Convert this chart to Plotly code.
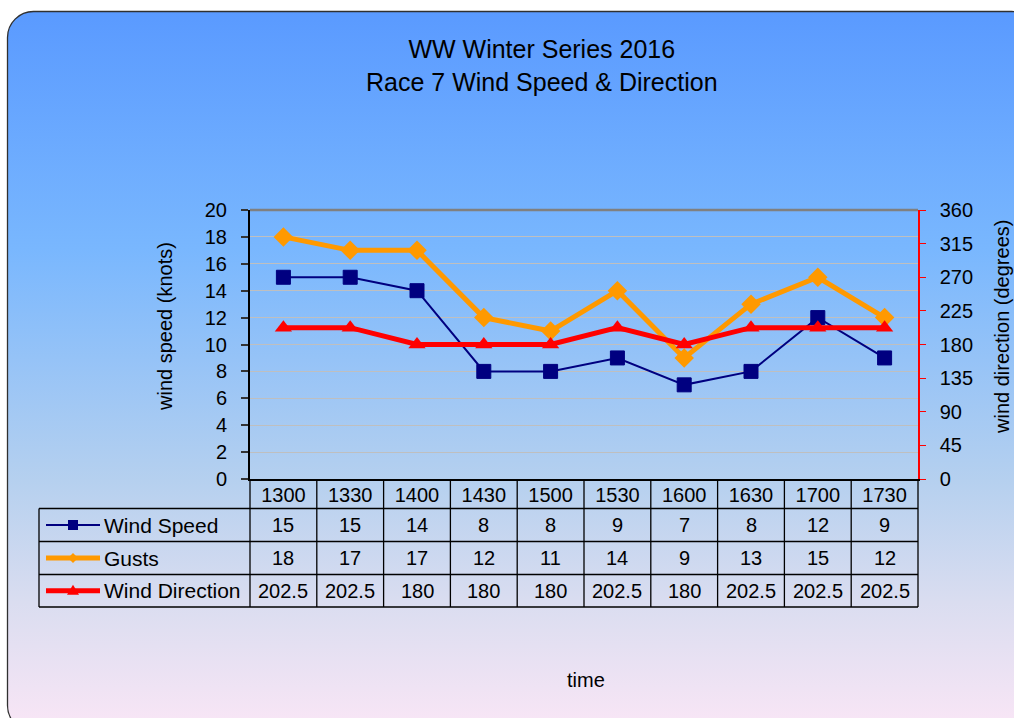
import base64
import plotly.graph_objects as go

# ---------------- data ----------------
times = ["1300", "1330", "1400", "1430", "1500", "1530", "1600", "1630", "1700", "1730"]
wind_speed = [15, 15, 14, 8, 8, 9, 7, 8, 12, 9]
gusts = [18, 17, 17, 12, 11, 14, 9, 13, 15, 12]
wind_direction = [202.5, 202.5, 180, 180, 180, 202.5, 180, 202.5, 202.5, 202.5]

series_names = ["Wind Speed", "Gusts", "Wind Direction"]
title_lines = ["WW Winter Series 2016", "Race 7 Wind Speed & Direction"]

# ---------------- layout helpers ----------------
W, H = 1014, 718
FONT = "Liberation Sans, Arial, sans-serif"
NAVY, ORANGE, RED = "#000080", "#FF9900", "#FF0000"

def fx(px):
    return px / W

def fy(py):
    return 1 - py / H

PL, PR, PT, PB = 250, 918, 210, 479     # plot area in pixels
ROWS = [479, 508.5, 541.5, 574.5, 607]  # table row boundaries
TBL_LEFT = 39

# background: rounded rectangle with vertical gradient
svg = f'''<svg xmlns="http://www.w3.org/2000/svg" width="{W}" height="{H}" viewBox="0 0 {W} {H}" preserveAspectRatio="none">
<defs><linearGradient id="g" x1="0" y1="0" x2="0" y2="1">
<stop offset="0" stop-color="#5A9AFF"/>
<stop offset="0.33" stop-color="#79B7FE"/>
<stop offset="0.65" stop-color="#B5D0EF"/>
<stop offset="0.82" stop-color="#DADDF0"/>
<stop offset="1" stop-color="#FAE6F6"/>
</linearGradient></defs>
<rect x="7.5" y="11.5" width="1030" height="720" rx="26" ry="26" fill="url(#g)" stroke="#303030" stroke-width="1.3"/>
</svg>'''
bg_src = "data:image/svg+xml;base64," + base64.b64encode(svg.encode()).decode()

fig = go.Figure()

fig.add_trace(go.Scatter(
    x=times, y=wind_speed, name=series_names[0], mode="lines+markers",
    line=dict(color=NAVY, width=2),
    marker=dict(symbol="square", size=14, color=NAVY, line=dict(color=NAVY, width=1)),
    xaxis="x", yaxis="y"))
fig.add_trace(go.Scatter(
    x=times, y=gusts, name=series_names[1], mode="lines+markers",
    line=dict(color=ORANGE, width=5),
    marker=dict(symbol="diamond", size=15, color=ORANGE),
    xaxis="x", yaxis="y"))
fig.add_trace(go.Scatter(
    x=times, y=wind_direction, name=series_names[2], mode="lines+markers",
    line=dict(color=RED, width=5),
    marker=dict(symbol="triangle-up", size=15, color=RED),
    xaxis="x", yaxis="y2"))

shapes = []
annotations = []

# top border of plot area
shapes.append(dict(type="line", xref="paper", yref="paper",
                   x0=fx(PL), x1=fx(PR), y0=fy(PT), y1=fy(PT),
                   line=dict(color="#808080", width=2.5)))

# table horizontal lines
for r in ROWS[1:]:
    shapes.append(dict(type="line", xref="paper", yref="paper",
                       x0=fx(TBL_LEFT), x1=fx(PR), y0=fy(r), y1=fy(r),
                       line=dict(color="black", width=1.3)))
# table vertical lines
shapes.append(dict(type="line", xref="paper", yref="paper",
                   x0=fx(TBL_LEFT), x1=fx(TBL_LEFT), y0=fy(ROWS[1]), y1=fy(ROWS[-1]),
                   line=dict(color="black", width=1.3)))
for px in (PL, PR):
    shapes.append(dict(type="line", xref="paper", yref="paper",
                       x0=fx(px), x1=fx(px), y0=fy(ROWS[0]), y1=fy(ROWS[-1]),
                       line=dict(color="black", width=1.3)))
for i in range(len(times) - 1):
    shapes.append(dict(type="line", xref="x", yref="paper",
                       x0=i + 0.5, x1=i + 0.5, y0=fy(ROWS[0]), y1=fy(ROWS[-1]),
                       line=dict(color="black", width=1.3)))

# table values (x = category index on the x axis)
table_rows = [wind_speed, gusts, wind_direction]
for ri, vals in enumerate(table_rows):
    yc = fy((ROWS[ri + 1] + ROWS[ri + 2]) / 2)
    for ci, v in enumerate(vals):
        annotations.append(dict(x=ci, y=yc, xref="x", yref="paper", text=f"{v:g}",
                                showarrow=False, xanchor="center", yanchor="middle",
                                font=dict(family=FONT, size=20, color="black")))
    annotations.append(dict(x=fx(102), y=yc, xref="paper", yref="paper",
                            text=series_names[ri], showarrow=False,
                            xanchor="left", yanchor="middle",
                            font=dict(family=FONT, size=21, color="black")))

# legend keys in table
key_x0, key_x1, key_c = 46, 100, 73
row_c = [(ROWS[k] + ROWS[k + 1]) / 2 for k in (1, 2, 3)]
key_styles = [(NAVY, 2), (ORANGE, 5), (RED, 5)]
for (col, wdt), yc in zip(key_styles, row_c):
    shapes.append(dict(type="line", xref="paper", yref="paper",
                       x0=fx(key_x0), x1=fx(key_x1), y0=fy(yc), y1=fy(yc),
                       line=dict(color=col, width=wdt)))
s = 5
shapes.append(dict(type="rect", xref="paper", yref="paper",
                   x0=fx(key_c - s), x1=fx(key_c + s), y0=fy(row_c[0] - s), y1=fy(row_c[0] + s),
                   fillcolor=NAVY, line=dict(width=0)))
d = 5
yc = row_c[1]
shapes.append(dict(type="path", xref="paper", yref="paper",
                   path=f"M {fx(key_c)},{fy(yc - d)} L {fx(key_c + d)},{fy(yc)} L {fx(key_c)},{fy(yc + d)} L {fx(key_c - d)},{fy(yc)} Z",
                   fillcolor=ORANGE, line=dict(width=0)))
yc = row_c[2]
shapes.append(dict(type="path", xref="paper", yref="paper",
                   path=f"M {fx(key_c)},{fy(yc - 6)} L {fx(key_c + 6)},{fy(yc + 4)} L {fx(key_c - 6)},{fy(yc + 4)} Z",
                   fillcolor=RED, line=dict(width=0)))

# titles
annotations.append(dict(x=fx(541.5), y=fy(66), xref="paper", yref="paper",
                        text="<br>".join(title_lines), showarrow=False,
                        xanchor="center", yanchor="middle",
                        font=dict(family=FONT, size=25, color="black")))
annotations.append(dict(x=fx(165), y=fy(327), xref="paper", yref="paper",
                        text="wind speed (knots)", textangle=-90, showarrow=False,
                        xanchor="center", yanchor="middle",
                        font=dict(family=FONT, size=20, color="black")))
annotations.append(dict(x=fx(1002), y=fy(327), xref="paper", yref="paper",
                        text="wind direction (degrees)", textangle=-90, showarrow=False,
                        xanchor="center", yanchor="middle",
                        font=dict(family=FONT, size=20, color="black")))
annotations.append(dict(x=fx(586), y=fy(680), xref="paper", yref="paper",
                        text="time", showarrow=False,
                        xanchor="center", yanchor="middle",
                        font=dict(family=FONT, size=20, color="black")))

fig.update_layout(
    width=W, height=H,
    margin=dict(l=0, r=0, t=0, b=0, autoexpand=False),
    paper_bgcolor="white",
    plot_bgcolor="rgba(0,0,0,0)",
    showlegend=False,
    font=dict(family=FONT, size=20, color="black"),
    images=[dict(source=bg_src, xref="paper", yref="paper", x=0, y=1,
                 sizex=1, sizey=1, sizing="stretch", xanchor="left", yanchor="top",
                 layer="below")],
    xaxis=dict(domain=[fx(PL), fx(PR)], type="category", range=[-0.5, len(times) - 0.5],
               showline=True, linecolor="black", linewidth=2, ticks="",
               showgrid=False, zeroline=False, tickfont=dict(family=FONT, size=20, color="black"),
               ticklabelstandoff=-3, anchor="y", automargin=False),
    yaxis=dict(domain=[fy(PB), fy(PT)], range=[0, 20], dtick=2,
               showline=True, linecolor="black", linewidth=2,
               ticks="outside", ticklen=7, tickcolor="#333333", tickwidth=1.5,
               showgrid=True, gridcolor="#BFBFBF", gridwidth=1, zeroline=False,
               tickfont=dict(family=FONT, size=20, color="black"),
               ticklabelstandoff=10, anchor="x", automargin=False),
    yaxis2=dict(overlaying="y", side="right", range=[0, 360], dtick=45,
                showline=True, linecolor=RED, linewidth=1.5,
                ticks="outside", ticklen=6, tickcolor=RED, tickwidth=1.3,
                showgrid=False, zeroline=False,
                tickfont=dict(family=FONT, size=20, color="black"),
                ticklabelstandoff=10, anchor="x", automargin=False),
    yaxis3=dict(overlaying="y", side="right", range=[0, 360], dtick=45,
                showline=False, ticks="inside", ticklen=4, tickcolor=RED, tickwidth=1.3,
                showticklabels=False, showgrid=False, zeroline=False, anchor="x",
                automargin=False),
    shapes=shapes,
    annotations=annotations,
)

page_fix = (
    "document.documentElement.style.margin='0';"
    "document.body.style.margin='0';"
    "document.body.style.overflow='hidden';"
    "var gd=document.getElementsByClassName('plotly-graph-div')[0];"
    "gd.style.position='fixed';gd.style.left='0px';gd.style.top='0px';"
)

fig.write_html("out.html", post_script=page_fix, config={"displayModeBar": False})
